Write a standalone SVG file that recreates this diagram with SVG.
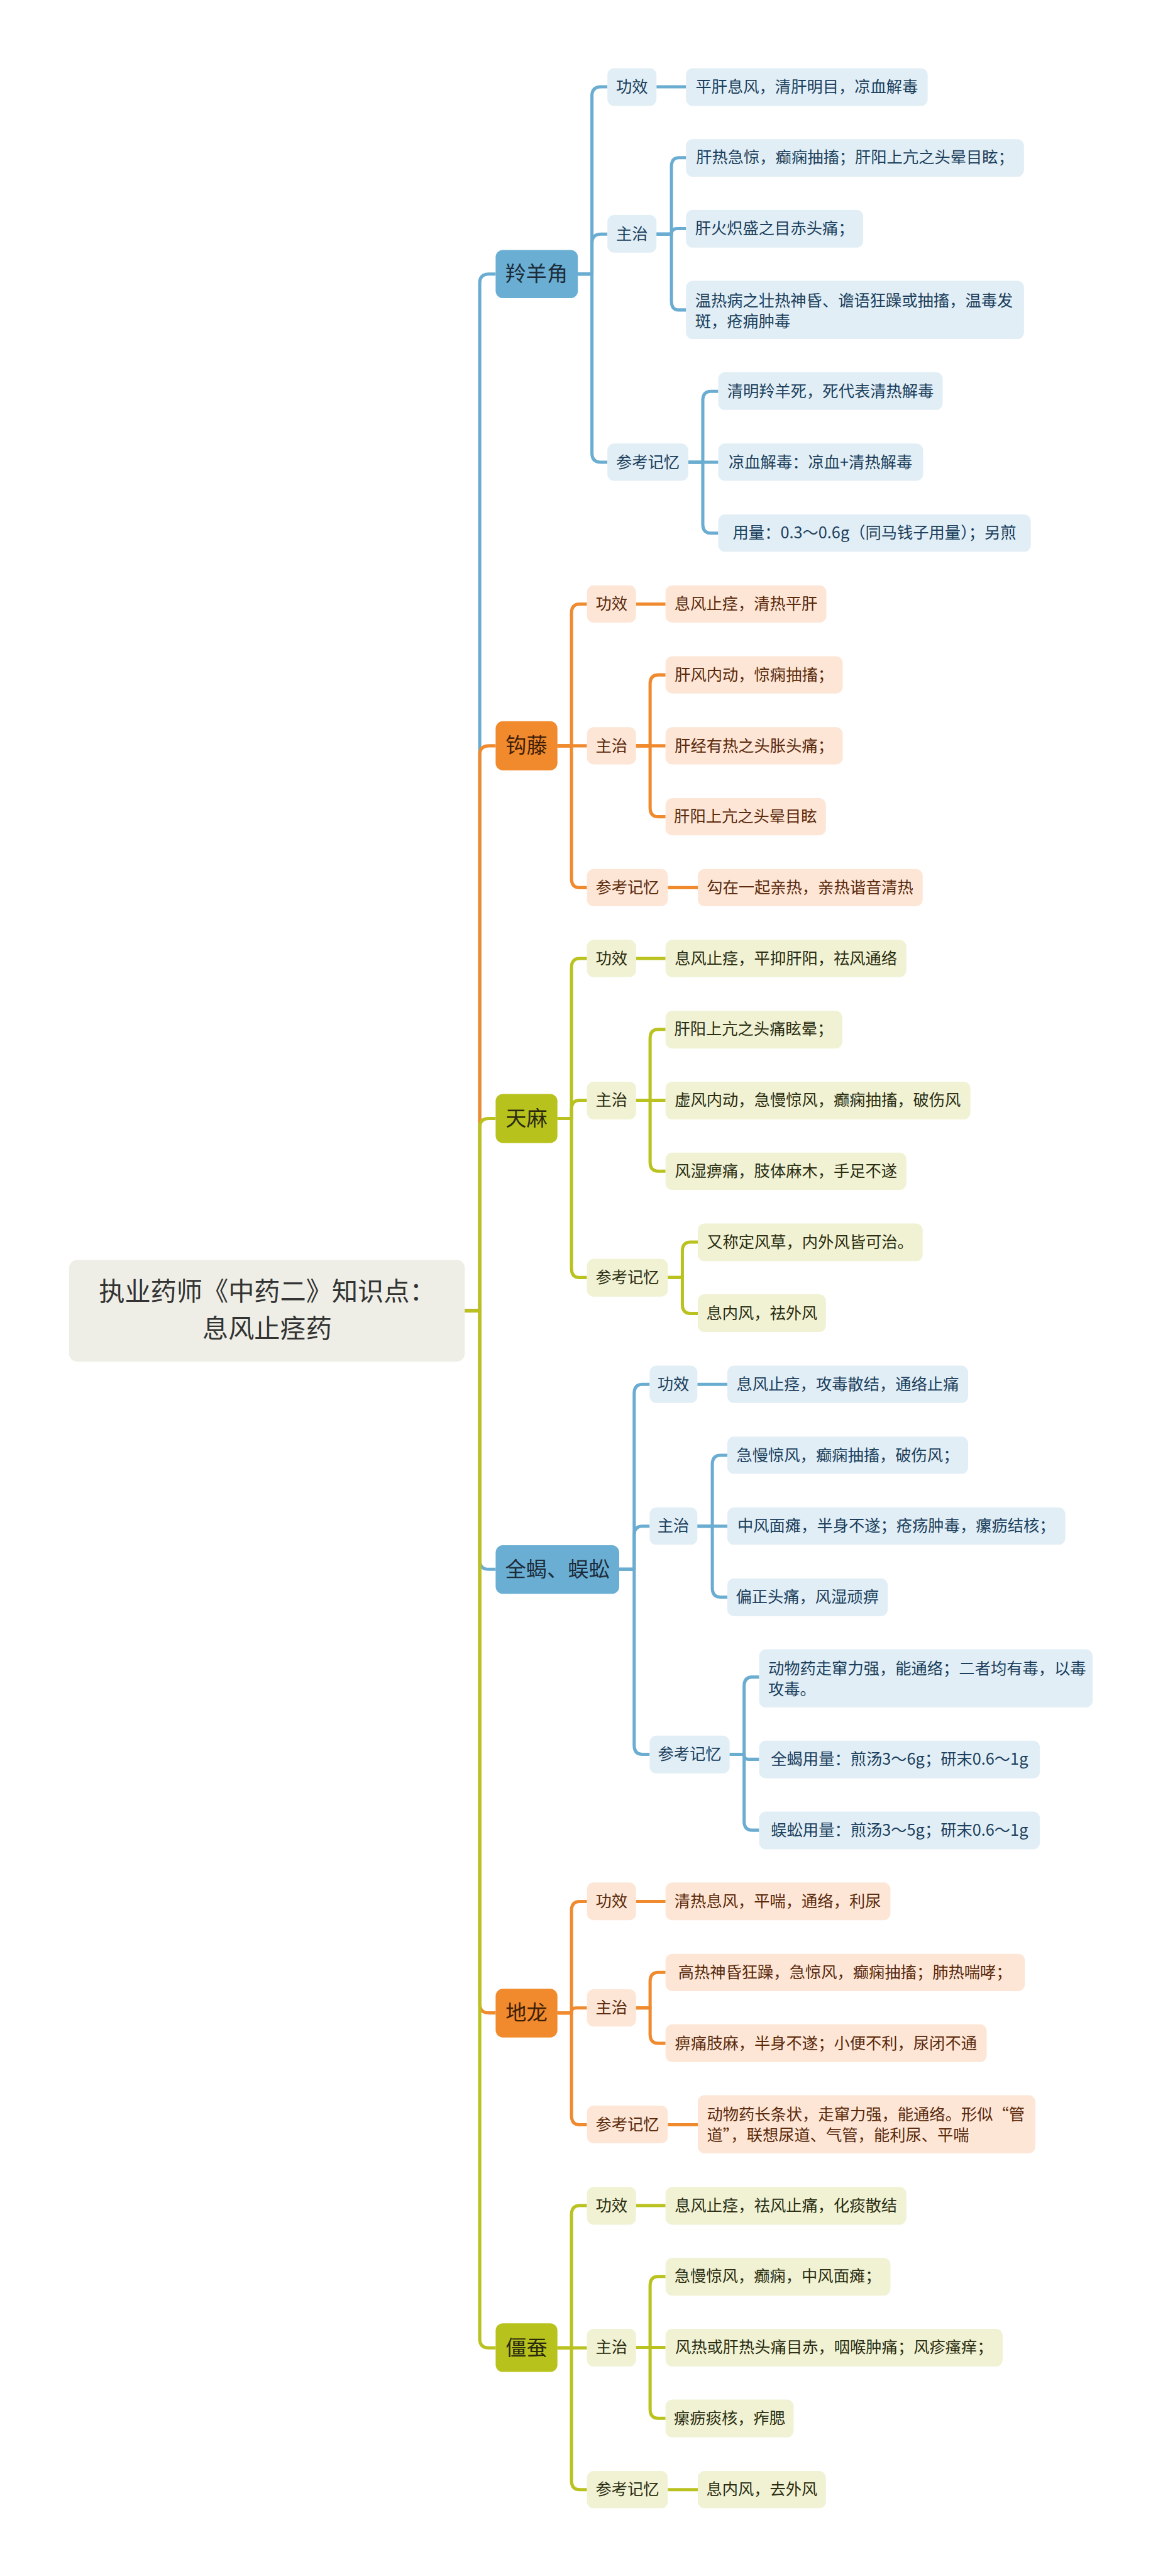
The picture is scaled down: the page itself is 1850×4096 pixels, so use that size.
<svg xmlns="http://www.w3.org/2000/svg" width="1850" height="4096" viewBox="0 0 1850 4096">
<style>
text{font-family:"Noto Sans CJK SC","Liberation Sans",sans-serif;}
.c{fill:none;stroke-width:7;stroke-linecap:butt;stroke-linejoin:round;}
.cb{stroke:#6AADD1;} .co{stroke:#F08A2E;} .cg{stroke:#B9C21E;}
.b1{fill:#6AAED3;} .o1{fill:#F18A2D;} .g1{fill:#B8C21C;}
.b2{fill:#E1EEF6;} .o2{fill:#FDE6D6;} .g2{fill:#F0F2D3;}
.r0{fill:#EEEEE6;}
.t0{font-size:57px;fill:#333333;text-anchor:middle;}
.t1{font-size:46px;text-anchor:middle;}
.t2{font-size:35px;text-anchor:middle;}
.tl{font-size:35px;text-anchor:start;}
.xb{fill:#1B3F5C;} .xo{fill:#5A2A0C;} .xg{fill:#2B2D12;}
.x1b{fill:#1D2C3A;} .x1o{fill:#3F1E08;} .x1g{fill:#2A2A10;}
</style>
<rect width="1850" height="4096" fill="#ffffff"/>
<g transform="scale(0.722656)">
<g id="connectors">
<!-- branch 1 -->
<path class="c cb" d="M1023 2884 H1056 V623 Q1056 603 1076 603 H1091"/>
<path class="c cb" d="M1272 603 H1303 V211 Q1303 191 1323 191 H1337"/>
<path class="c cb" d="M1272 603 H1303 V535 Q1303 515 1323 515 H1337"/>
<path class="c cb" d="M1272 603 H1303 V997 Q1303 1017 1323 1017 H1337"/>
<path class="c cb" d="M1445 191 H1510"/>
<path class="c cb" d="M1445 515 H1478 V367 Q1478 347 1494 347 H1510"/>
<path class="c cb" d="M1445 515 H1478 V515 Q1478 503 1490 503 H1510"/>
<path class="c cb" d="M1445 515 H1478 V662 Q1478 682 1494 682 H1510"/>
<path class="c cb" d="M1515 1017 H1547 V881 Q1547 861 1565 861 H1581"/>
<path class="c cb" d="M1515 1017 H1581"/>
<path class="c cb" d="M1515 1017 H1547 V1153 Q1547 1173 1565 1173 H1581"/>
<!-- branch 2 -->
<path class="c co" d="M1023 2884 H1056 V1661 Q1056 1641 1076 1641 H1091"/>
<path class="c co" d="M1227 1641 H1258 V1349 Q1258 1329 1276 1329 H1292"/>
<path class="c co" d="M1227 1641 H1292"/>
<path class="c co" d="M1227 1641 H1258 V1933 Q1258 1953 1276 1953 H1292"/>
<path class="c co" d="M1400 1329 H1465"/>
<path class="c co" d="M1400 1641 H1431 V1505 Q1431 1485 1449 1485 H1465"/>
<path class="c co" d="M1400 1641 H1465"/>
<path class="c co" d="M1400 1641 H1431 V1777 Q1431 1797 1449 1797 H1465"/>
<path class="c co" d="M1470 1953 H1536"/>
<!-- branch 3 -->
<path class="c cg" d="M1023 2884 H1056 V2481 Q1056 2461 1076 2461 H1091"/>
<path class="c cg" d="M1227 2461 H1258 V2129 Q1258 2109 1276 2109 H1292"/>
<path class="c cg" d="M1227 2461 H1258 V2441 Q1258 2421 1276 2421 H1292"/>
<path class="c cg" d="M1227 2461 H1258 V2791 Q1258 2811 1276 2811 H1292"/>
<path class="c cg" d="M1400 2109 H1465"/>
<path class="c cg" d="M1400 2421 H1431 V2285 Q1431 2265 1449 2265 H1465"/>
<path class="c cg" d="M1400 2421 H1465"/>
<path class="c cg" d="M1400 2421 H1431 V2557 Q1431 2577 1449 2577 H1465"/>
<path class="c cg" d="M1470 2811 H1502 V2753 Q1502 2733 1520 2733 H1536"/>
<path class="c cg" d="M1470 2811 H1502 V2870 Q1502 2890 1520 2890 H1536"/>
<!-- branch 4 -->
<path class="c cb" d="M1023 2884 H1056 V3433 Q1056 3453 1076 3453 H1091"/>
<path class="c cb" d="M1363 3453 H1396 V3066 Q1396 3046 1414 3046 H1430"/>
<path class="c cb" d="M1363 3453 H1396 V3378 Q1396 3358 1414 3358 H1430"/>
<path class="c cb" d="M1363 3453 H1396 V3840 Q1396 3860 1414 3860 H1430"/>
<path class="c cb" d="M1535 3046 H1601"/>
<path class="c cb" d="M1535 3358 H1568 V3222 Q1568 3202 1586 3202 H1601"/>
<path class="c cb" d="M1535 3358 H1601"/>
<path class="c cb" d="M1535 3358 H1568 V3494 Q1568 3514 1586 3514 H1601"/>
<path class="c cb" d="M1606 3860 H1638 V3710 Q1638 3690 1656 3690 H1671"/>
<path class="c cb" d="M1606 3860 H1638 V3862 Q1638 3871 1648 3871 H1671"/>
<path class="c cb" d="M1606 3860 H1638 V4007 Q1638 4027 1656 4027 H1671"/>
<!-- branch 5 -->
<path class="c co" d="M1023 2884 H1056 V4409 Q1056 4429 1076 4429 H1091"/>
<path class="c co" d="M1227 4429 H1258 V4204 Q1258 4184 1276 4184 H1292"/>
<path class="c co" d="M1227 4429 H1258 V4427 Q1258 4418 1268 4418 H1292"/>
<path class="c co" d="M1227 4429 H1258 V4655 Q1258 4675 1276 4675 H1292"/>
<path class="c co" d="M1400 4184 H1465"/>
<path class="c co" d="M1400 4418 H1431 V4360 Q1431 4340 1449 4340 H1465"/>
<path class="c co" d="M1400 4418 H1431 V4476 Q1431 4496 1449 4496 H1465"/>
<path class="c co" d="M1470 4675 H1536"/>
<!-- branch 6 -->
<path class="c cg" d="M1023 2884 H1056 V5146 Q1056 5166 1076 5166 H1091"/>
<path class="c cg" d="M1227 5166 H1258 V4873 Q1258 4853 1276 4853 H1292"/>
<path class="c cg" d="M1227 5166 H1292"/>
<path class="c cg" d="M1227 5166 H1258 V5458 Q1258 5478 1276 5478 H1292"/>
<path class="c cg" d="M1400 4853 H1465"/>
<path class="c cg" d="M1400 5165 H1431 V5029 Q1431 5009 1449 5009 H1465"/>
<path class="c cg" d="M1400 5165 H1465"/>
<path class="c cg" d="M1400 5165 H1431 V5301 Q1431 5321 1449 5321 H1465"/>
<path class="c cg" d="M1470 5478 H1536"/>
</g>

<g id="root"><rect class="r0" x="152" y="2772" width="871" height="224" rx="18"/>
<text class="t0" x="588" y="2862">执业药师《中药二》知识点：</text>
<text class="t0" x="588" y="2943">息风止痉药</text></g>

<!-- branch 1: 羚羊角 -->
<g id="n-lingyangjiao"><rect class="b1" x="1091" y="550" width="181" height="106" rx="16"/><text class="t1 x1b" x="1181" y="619">羚羊角</text></g>
<g id="n1-gongxiao"><rect class="b2" x="1337" y="150" width="108" height="83" rx="15"/><text class="t2 xb" x="1391" y="203">功效</text></g>
<g id="n1-gongxiao-1"><rect class="b2" x="1510" y="150" width="532" height="83" rx="15"/><text class="t2 xb" x="1776" y="203">平肝息风，清肝明目，凉血解毒</text></g>
<g id="n1-zhuzhi"><rect class="b2" x="1337" y="473" width="108" height="83" rx="15"/><text class="t2 xb" x="1391" y="527">主治</text></g>
<g id="n1-zhuzhi-1"><rect class="b2" x="1510" y="306" width="744" height="83" rx="15"/><text class="t2 xb" x="1882" y="359">肝热急惊，癫痫抽搐；肝阳上亢之头晕目眩；</text></g>
<g id="n1-zhuzhi-2"><rect class="b2" x="1510" y="462" width="390" height="83" rx="15"/><text class="t2 xb" x="1705" y="515">肝火炽盛之目赤头痛；</text></g>
<g id="n1-zhuzhi-3"><rect class="b2" x="1510" y="618" width="744" height="128" rx="15"/><text class="tl xb" x="1530" y="674">温热病之壮热神昏、谵语狂躁或抽搐，温毒发</text><text class="tl xb" x="1530" y="719">斑，疮痈肿毒</text></g>
<g id="n1-cankao"><rect class="b2" x="1337" y="976" width="178" height="82" rx="15"/><text class="t2 xb" x="1426" y="1029">参考记忆</text></g>
<g id="n1-cankao-1"><rect class="b2" x="1581" y="819" width="494" height="83" rx="15"/><text class="t2 xb" x="1828" y="873">清明羚羊死，死代表清热解毒</text></g>
<g id="n1-cankao-2"><rect class="b2" x="1581" y="976" width="451" height="82" rx="15"/><text class="t2 xb" x="1806" y="1029">凉血解毒：凉血+清热解毒</text></g>
<g id="n1-cankao-3"><rect class="b2" x="1581" y="1132" width="688" height="82" rx="15"/><text class="t2 xb" x="1925" y="1185">用量：0.3～0.6g（同马钱子用量）；另煎</text></g>

<!-- branch 2: 钩藤 -->
<g id="n-gouteng"><rect class="o1" x="1091" y="1587" width="136" height="108" rx="16"/><text class="t1 x1o" x="1159" y="1657">钩藤</text></g>
<g id="n2-gongxiao"><rect class="o2" x="1292" y="1288" width="108" height="82" rx="15"/><text class="t2 xo" x="1346" y="1341">功效</text></g>
<g id="n2-gongxiao-1"><rect class="o2" x="1465" y="1288" width="354" height="82" rx="15"/><text class="t2 xo" x="1642" y="1341">息风止痉，清热平肝</text></g>
<g id="n2-zhuzhi"><rect class="o2" x="1292" y="1600" width="108" height="82" rx="15"/><text class="t2 xo" x="1346" y="1653">主治</text></g>
<g id="n2-zhuzhi-1"><rect class="o2" x="1465" y="1444" width="390" height="82" rx="15"/><text class="t2 xo" x="1660" y="1497">肝风内动，惊痫抽搐；</text></g>
<g id="n2-zhuzhi-2"><rect class="o2" x="1465" y="1600" width="390" height="82" rx="15"/><text class="t2 xo" x="1660" y="1653">肝经有热之头胀头痛；</text></g>
<g id="n2-zhuzhi-3"><rect class="o2" x="1465" y="1756" width="353" height="82" rx="15"/><text class="t2 xo" x="1641" y="1809">肝阳上亢之头晕目眩</text></g>
<g id="n2-cankao"><rect class="o2" x="1292" y="1912" width="178" height="82" rx="15"/><text class="t2 xo" x="1381" y="1965">参考记忆</text></g>
<g id="n2-cankao-1"><rect class="o2" x="1536" y="1912" width="495" height="82" rx="15"/><text class="t2 xo" x="1783" y="1965">勾在一起亲热，亲热谐音清热</text></g>

<!-- branch 3: 天麻 -->
<g id="n-tianma"><rect class="g1" x="1091" y="2407" width="136" height="108" rx="16"/><text class="t1 x1g" x="1159" y="2477">天麻</text></g>
<g id="n3-gongxiao"><rect class="g2" x="1292" y="2068" width="108" height="82" rx="15"/><text class="t2 xg" x="1346" y="2121">功效</text></g>
<g id="n3-gongxiao-1"><rect class="g2" x="1465" y="2068" width="530" height="82" rx="15"/><text class="t2 xg" x="1730" y="2121">息风止痉，平抑肝阳，祛风通络</text></g>
<g id="n3-zhuzhi"><rect class="g2" x="1292" y="2380" width="108" height="83" rx="15"/><text class="t2 xg" x="1346" y="2433">主治</text></g>
<g id="n3-zhuzhi-1"><rect class="g2" x="1465" y="2224" width="389" height="83" rx="15"/><text class="t2 xg" x="1659" y="2277">肝阳上亢之头痛眩晕；</text></g>
<g id="n3-zhuzhi-2"><rect class="g2" x="1465" y="2380" width="671" height="83" rx="15"/><text class="t2 xg" x="1800" y="2433">虚风内动，急慢惊风，癫痫抽搐，破伤风</text></g>
<g id="n3-zhuzhi-3"><rect class="g2" x="1465" y="2536" width="530" height="82" rx="15"/><text class="t2 xg" x="1730" y="2589">风湿痹痛，肢体麻木，手足不遂</text></g>
<g id="n3-cankao"><rect class="g2" x="1292" y="2770" width="178" height="83" rx="15"/><text class="t2 xg" x="1381" y="2823">参考记忆</text></g>
<g id="n3-cankao-1"><rect class="g2" x="1536" y="2692" width="495" height="83" rx="15"/><text class="t2 xg" x="1783" y="2745">又称定风草，内外风皆可治。</text></g>
<g id="n3-cankao-2"><rect class="g2" x="1536" y="2848" width="282" height="83" rx="15"/><text class="t2 xg" x="1677" y="2902">息内风，祛外风</text></g>

<!-- branch 4: 全蝎、蜈蚣 -->
<g id="n-quanxie"><rect class="b1" x="1091" y="3400" width="272" height="107" rx="16"/><text class="t1 x1b" x="1227" y="3469">全蝎、蜈蚣</text></g>
<g id="n4-gongxiao"><rect class="b2" x="1430" y="3005" width="105" height="82" rx="15"/><text class="t2 xb" x="1482" y="3058">功效</text></g>
<g id="n4-gongxiao-1"><rect class="b2" x="1601" y="3005" width="530" height="82" rx="15"/><text class="t2 xb" x="1866" y="3058">息风止痉，攻毒散结，通络止痛</text></g>
<g id="n4-zhuzhi"><rect class="b2" x="1430" y="3317" width="105" height="82" rx="15"/><text class="t2 xb" x="1482" y="3370">主治</text></g>
<g id="n4-zhuzhi-1"><rect class="b2" x="1601" y="3161" width="530" height="82" rx="15"/><text class="t2 xb" x="1866" y="3214">急慢惊风，癫痫抽搐，破伤风；</text></g>
<g id="n4-zhuzhi-2"><rect class="b2" x="1601" y="3317" width="744" height="82" rx="15"/><text class="t2 xb" x="1973" y="3370">中风面瘫，半身不遂；疮疡肿毒，瘰疬结核；</text></g>
<g id="n4-zhuzhi-3"><rect class="b2" x="1601" y="3473" width="353" height="83" rx="15"/><text class="t2 xb" x="1777" y="3526">偏正头痛，风湿顽痹</text></g>
<g id="n4-cankao"><rect class="b2" x="1430" y="3819" width="176" height="83" rx="15"/><text class="t2 xb" x="1518" y="3872">参考记忆</text></g>
<g id="n4-cankao-1"><rect class="b2" x="1671" y="3629" width="734" height="128" rx="15"/><text class="tl xb" x="1691" y="3684">动物药走窜力强，能通络；二者均有毒，以毒</text><text class="tl xb" x="1691" y="3729">攻毒。</text></g>
<g id="n4-cankao-2"><rect class="b2" x="1671" y="3830" width="618" height="83" rx="15"/><text class="t2 xb" x="1980" y="3883">全蝎用量：煎汤3～6g；研末0.6～1g</text></g>
<g id="n4-cankao-3"><rect class="b2" x="1671" y="3986" width="618" height="83" rx="15"/><text class="t2 xb" x="1980" y="4039">蜈蚣用量：煎汤3～5g；研末0.6～1g</text></g>

<!-- branch 5: 地龙 -->
<g id="n-dilong"><rect class="o1" x="1091" y="4376" width="136" height="107" rx="16"/><text class="t1 x1o" x="1159" y="4445">地龙</text></g>
<g id="n5-gongxiao"><rect class="o2" x="1292" y="4142" width="108" height="83" rx="15"/><text class="t2 xo" x="1346" y="4196">功效</text></g>
<g id="n5-gongxiao-1"><rect class="o2" x="1465" y="4142" width="495" height="83" rx="15"/><text class="t2 xo" x="1712" y="4196">清热息风，平喘，通络，利尿</text></g>
<g id="n5-zhuzhi"><rect class="o2" x="1292" y="4377" width="108" height="82" rx="15"/><text class="t2 xo" x="1346" y="4430">主治</text></g>
<g id="n5-zhuzhi-1"><rect class="o2" x="1465" y="4299" width="791" height="82" rx="15"/><text class="t2 xo" x="1860" y="4352">高热神昏狂躁，急惊风，癫痫抽搐；肺热喘哮；</text></g>
<g id="n5-zhuzhi-2"><rect class="o2" x="1465" y="4454" width="707" height="83" rx="15"/><text class="t2 xo" x="1818" y="4508">痹痛肢麻，半身不遂；小便不利，尿闭不通</text></g>
<g id="n5-cankao"><rect class="o2" x="1292" y="4633" width="178" height="83" rx="15"/><text class="t2 xo" x="1381" y="4687">参考记忆</text></g>
<g id="n5-cankao-1"><rect class="o2" x="1536" y="4610" width="743" height="128" rx="15"/><text class="tl xo" x="1556" y="4665">动物药长条状，走窜力强，能通络。形似“管</text><text class="tl xo" x="1556" y="4710">道”，联想尿道、气管，能利尿、平喘</text></g>

<!-- branch 6: 僵蚕 -->
<g id="n-jiangcan"><rect class="g1" x="1091" y="5112" width="136" height="107" rx="16"/><text class="t1 x1g" x="1159" y="5182">僵蚕</text></g>
<g id="n6-gongxiao"><rect class="g2" x="1292" y="4812" width="108" height="83" rx="15"/><text class="t2 xg" x="1346" y="4865">功效</text></g>
<g id="n6-gongxiao-1"><rect class="g2" x="1465" y="4812" width="530" height="83" rx="15"/><text class="t2 xg" x="1730" y="4865">息风止痉，祛风止痛，化痰散结</text></g>
<g id="n6-zhuzhi"><rect class="g2" x="1292" y="5124" width="108" height="83" rx="15"/><text class="t2 xg" x="1346" y="5177">主治</text></g>
<g id="n6-zhuzhi-1"><rect class="g2" x="1465" y="4968" width="495" height="83" rx="15"/><text class="t2 xg" x="1712" y="5021">急慢惊风，癫痫，中风面瘫；</text></g>
<g id="n6-zhuzhi-2"><rect class="g2" x="1465" y="5124" width="742" height="83" rx="15"/><text class="t2 xg" x="1836" y="5177">风热或肝热头痛目赤，咽喉肿痛；风疹瘙痒；</text></g>
<g id="n6-zhuzhi-3"><rect class="g2" x="1465" y="5280" width="282" height="83" rx="15"/><text class="t2 xg" x="1606" y="5333">瘰疬痰核，痄腮</text></g>
<g id="n6-cankao"><rect class="g2" x="1292" y="5437" width="178" height="82" rx="15"/><text class="t2 xg" x="1381" y="5490">参考记忆</text></g>
<g id="n6-cankao-1"><rect class="g2" x="1536" y="5437" width="282" height="82" rx="15"/><text class="t2 xg" x="1677" y="5490">息内风，去外风</text></g>
</g>
</svg>
